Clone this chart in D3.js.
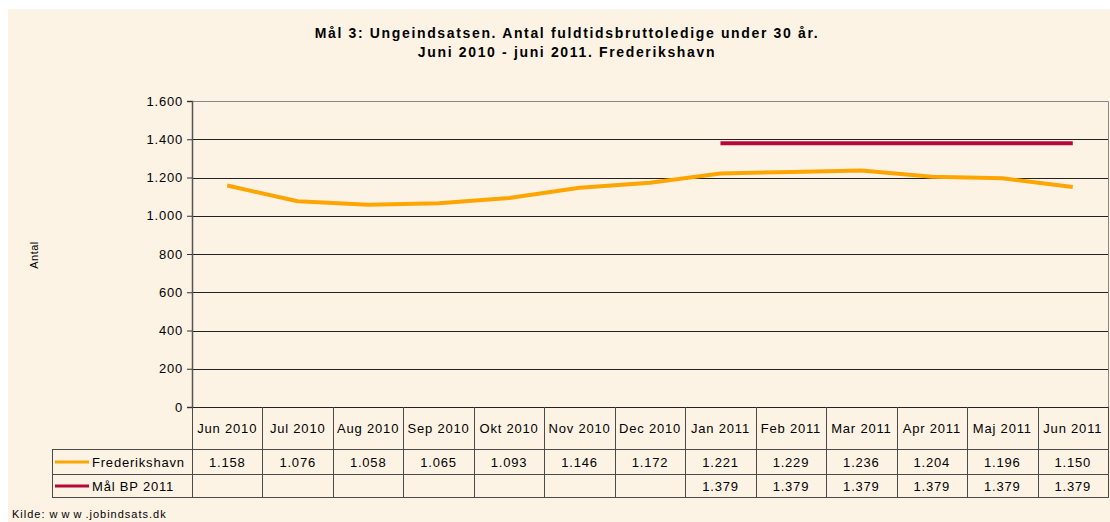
<!DOCTYPE html>
<html>
<head>
<meta charset="utf-8">
<script src="https://cdnjs.cloudflare.com/ajax/libs/d3/7.8.5/d3.min.js"></script>
<style>
  body { margin: 0; background: #fff; }
  svg text { font-family: "Liberation Sans", Arial, sans-serif; fill: #000; }
</style>
</head>
<body>
<script>
// data
var months = ["Jun 2010","Jul 2010","Aug 2010","Sep 2010","Okt 2010","Nov 2010","Dec 2010",
              "Jan 2011","Feb 2011","Mar 2011","Apr 2011","Maj 2011","Jun 2011"];
var frederikshavn = [1158,1076,1058,1065,1093,1146,1172,1221,1229,1236,1204,1196,1150];
var maalBP = [null,null,null,null,null,null,null,1379,1379,1379,1379,1379,1379];
var yTicks = [0,200,400,600,800,1000,1200,1400,1600];

var series = [
  {name: "Frederikshavn", values: frederikshavn, color: "#FFA500"},
  {name: "Mål BP 2011", values: maalBP, color: "#B8073A"}
];

var W = 1110, H = 522;
var plot = {left: 192, right: 1108, top: 101, bottom: 407};
var rowH = [42, 25, 23];   // header, row 1, row 2
var legendLeft = 52;
var ls = "0.8px";          // wide old-style text spacing

var da = d3.formatLocale({decimal: ",", thousands: ".", grouping: [3], currency: ["", " kr"]});
var fmt = da.format(",d");

var x = d3.scaleBand().domain(months).range([plot.left, plot.right]);
var y = d3.scaleLinear().domain([0, 1600]).range([plot.bottom, plot.top]);

var svg = d3.select("body").append("svg")
    .attr("width", W)
    .attr("height", H);

svg.append("rect")
    .attr("x", 8).attr("y", 9)
    .attr("width", W - 8).attr("height", H - 9)
    .attr("fill", "#FDF3E5");

// title
var title = svg.append("text")
    .attr("text-anchor", "middle")
    .style("font-size", "14px")
    .style("font-weight", "bold")
    .style("letter-spacing", "1.65px");
title.append("tspan").attr("x", 567).attr("y", 38).text("Mål 3: Ungeindsatsen. Antal fuldtidsbruttoledige under 30 år.");
title.append("tspan").attr("x", 567).attr("y", 57).text("Juni 2010 - juni 2011. Frederikshavn");

// plot frame (top + right)
svg.append("path")
    .attr("d", "M" + plot.left + "," + (plot.top + 0.5) + "H" + (plot.right + 0.5) + "V" + plot.bottom)
    .attr("fill", "none")
    .attr("stroke", "#888")
    .attr("stroke-width", 1);

// gridlines
svg.append("g")
  .selectAll("line")
    .data(yTicks.filter(function(d) { return d > 0 && d < 1600; }))
  .enter().append("line")
    .attr("x1", plot.left).attr("x2", plot.right)
    .attr("y1", function(d) { return Math.round(y(d)) + 0.5; })
    .attr("y2", function(d) { return Math.round(y(d)) + 0.5; })
    .attr("stroke", "#222")
    .attr("stroke-width", 1);

// y axis
var yAxis = svg.append("g")
    .attr("transform", "translate(" + plot.left + ",0)")
    .call(d3.axisLeft(y).tickValues(yTicks).tickSize(5).tickPadding(4).tickFormat(fmt));
yAxis.select(".domain").attr("stroke", "#555").attr("stroke-width", 1.5);
yAxis.selectAll(".tick line").attr("stroke", "#333");
yAxis.selectAll("text")
    .style("font-size", "13px")
    .style("letter-spacing", ls)
    .style("font-family", "'Liberation Sans', Arial, sans-serif")
    .attr("fill", "#000");

svg.append("text")
    .attr("transform", "translate(38,255) rotate(-90)")
    .attr("text-anchor", "middle")
    .style("font-size", "11px")
    .style("letter-spacing", "0.5px")
    .text("Antal");

// lines
var line = d3.line()
    .defined(function(d) { return d != null; })
    .x(function(d, i) { return x(months[i]) + x.bandwidth() / 2; })
    .y(function(d) { return y(d); });

svg.append("g")
  .selectAll("path")
    .data(series)
  .enter().append("path")
    .attr("d", function(s) { return line(s.values); })
    .attr("fill", "none")
    .attr("stroke", function(s) { return s.color; })
    .attr("stroke-width", 4)
    .attr("stroke-linejoin", "round");

// x axis line (0)
svg.append("line")
    .attr("x1", plot.left).attr("x2", plot.right)
    .attr("y1", plot.bottom + 0.5).attr("y2", plot.bottom + 0.5)
    .attr("stroke", "#222");

// data table
var table = svg.append("g");
var y0 = plot.bottom, y1 = y0 + rowH[0], y2 = y1 + rowH[1], y3 = y2 + rowH[2];
var gridColor = "#4a4a4a";

// vertical lines
var vx = months.map(function(m) { return x(m); }).concat([plot.right]);
table.selectAll("line.v")
    .data(vx)
  .enter().append("line")
    .attr("x1", function(d) { return Math.round(d) + 0.5; })
    .attr("x2", function(d) { return Math.round(d) + 0.5; })
    .attr("y1", y0).attr("y2", y3)
    .attr("stroke", gridColor);
table.append("line")
    .attr("x1", legendLeft + 0.5).attr("x2", legendLeft + 0.5)
    .attr("y1", y1).attr("y2", y3)
    .attr("stroke", gridColor);
[y1, y2, y3].forEach(function(yy) {
  table.append("line")
      .attr("x1", legendLeft).attr("x2", plot.right + 1)
      .attr("y1", yy + 0.5).attr("y2", yy + 0.5)
      .attr("stroke", gridColor);
});

// header
table.selectAll("text.h")
    .data(months)
  .enter().append("text")
    .attr("x", function(d) { return x(d) + x.bandwidth() / 2; })
    .attr("y", y0 + rowH[0] / 2 + 4.5)
    .attr("text-anchor", "middle")
    .style("font-size", "13px")
    .style("letter-spacing", ls)
    .text(function(d) { return d; });

// rows
series.forEach(function(s, r) {
  var top = r === 0 ? y1 : y2;
  var h = rowH[r + 1];
  var cy = top + h / 2;
  table.append("line")
      .attr("x1", 55).attr("x2", 89)
      .attr("y1", cy + 0.5).attr("y2", cy + 0.5)
      .attr("stroke", s.color)
      .attr("stroke-width", 3);
  table.append("text")
      .attr("x", 92).attr("y", cy + 5)
      .style("font-size", "13px")
      .style("letter-spacing", ls)
      .text(s.name);
  table.selectAll(null)
      .data(s.values)
    .enter().append("text")
      .attr("x", function(d, i) { return x(months[i]) + x.bandwidth() / 2; })
      .attr("y", cy + 5)
      .attr("text-anchor", "middle")
      .style("font-size", "13px")
      .style("letter-spacing", ls)
      .text(function(d) { return d == null ? "" : fmt(d); });
});

// source
var src = svg.append("text")
    .attr("x", 12).attr("y", 518)
    .style("font-size", "11px")
    .style("letter-spacing", "1px");
src.append("tspan").text("Kilde: ");
src.append("tspan").style("letter-spacing", "4px").text("www");
src.append("tspan").text(".jobindsats.dk");
</script>
</body>
</html>
